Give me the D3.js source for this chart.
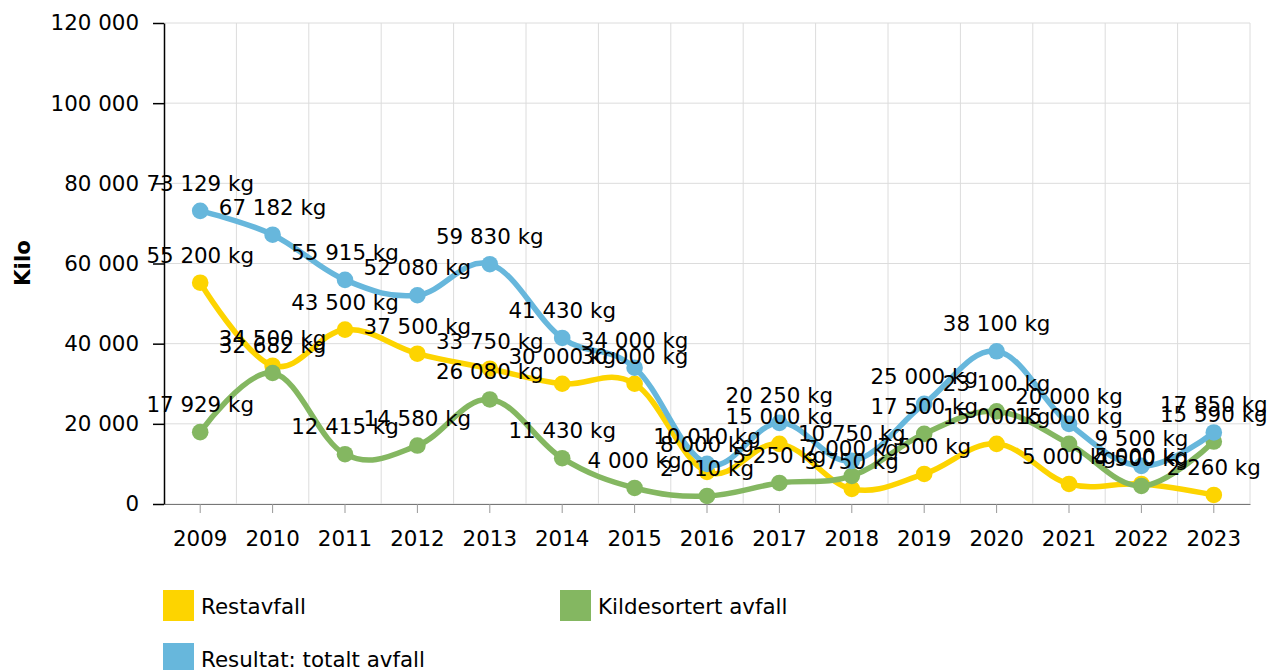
<!doctype html>
<html lang='no'>

<head>
    <meta charset='UTF-8'>
    <title>Avfall</title>
    <style>
        html,
        body {
            margin: 0;
            background: #fff;
        }

        svg text {
            font-family: Verdana, "DejaVu Sans", sans-serif;
            font-size: 21.4px;
            fill: #000;
        }
    </style>
</head>

<body>
    <script src='https://d3js.org/d3.v7.min.js'></script>
    <div class='chart'></div>
    <script>
        const years = ['2009', '2010', '2011', '2012', '2013', '2014', '2015', '2016',
            '2017', '2018', '2019', '2020', '2021', '2022', '2023'];

        const restavfall = [55200, 34500, 43500, 37500, 33750, 30000, 30000, 8000,
            15000, 3750, 7500, 15000, 5000, 5000, 2260];
        const kildesortert = [17929, 32682, 12415, 14580, 26080, 11430, 4000, 2010,
            5250, 7000, 17500, 23100, 15000, 4500, 15590];
        const totalt = [73129, 67182, 55915, 52080, 59830, 41430, 34000, 10010,
            20250, 10750, 25000, 38100, 20000, 9500, 17850];

        const yTicks = [0, 20000, 40000, 60000, 80000, 100000, 120000];

        const series = [
            {name: 'Restavfall', values: restavfall, color: '#fdd400'},
            {name: 'Kildesortert avfall', values: kildesortert, color: '#84b761'},
            {name: 'Resultat: totalt avfall', values: totalt, color: '#67b7dc'}
        ];

        const config = {
            width: 1269,
            height: 670,
            left: 164,
            right: 1250,
            top: 23,
            bottom: 504,
            lineWidth: 5.5,
            pointRadius: 8.3,
            gridColor: '#dcdcdc'
        };

        const locale = d3.formatLocale({decimal: ',', thousands: ' ', grouping: [3], currency: ['', ' kr']});
        const fmt = locale.format(',');

        const svg = d3.select('.chart')
            .append('svg')
            .attr('width', config.width)
            .attr('height', config.height);

        const x = d3.scaleBand()
            .domain(years)
            .range([config.left, config.right]);
        const cx = (d) => x(d) + x.bandwidth() / 2;

        const y = d3.scaleLinear()
            .domain([0, 120000])
            .range([config.bottom, config.top]);

        // grid
        const grid = svg.append('g');
        grid.selectAll('.hgrid')
            .data(yTicks)
            .enter()
            .append('line')
            .attr('x1', config.left)
            .attr('x2', config.right)
            .attr('y1', (d) => y(d))
            .attr('y2', (d) => y(d))
            .style('stroke', config.gridColor);

        grid.selectAll('.vgrid')
            .data(years)
            .enter()
            .append('line')
            .attr('x1', (d) => x(d) + x.bandwidth())
            .attr('x2', (d) => x(d) + x.bandwidth())
            .attr('y1', config.top)
            .attr('y2', config.bottom)
            .style('stroke', config.gridColor);

        // x axis
        const xAxis = svg.append('g')
            .attr('transform', 'translate(0,' + config.bottom + ')')
            .call(d3.axisBottom(x).tickSize(9).tickPadding(18).tickSizeOuter(0));
        xAxis.select('.domain').style('stroke', '#777');
        xAxis.selectAll('.tick line').style('stroke', '#999');
        xAxis.attr('font-size', null).attr('font-family', null);

        // y axis
        const yAxis = svg.append('g')
            .attr('transform', 'translate(' + config.left + ',0)')
            .call(d3.axisLeft(y).tickValues(yTicks).tickFormat(fmt).tickSize(11).tickPadding(14).tickSizeOuter(0));
        yAxis.select('.domain').style('stroke', '#000').style('stroke-width', 1.5);
        yAxis.selectAll('.tick line').style('stroke', '#000').style('stroke-width', 1.5);
        yAxis.attr('font-size', null).attr('font-family', null);

        svg.append('text')
            .attr('transform', 'translate(30,263) rotate(-90)')
            .attr('text-anchor', 'middle')
            .style('font-weight', 'bold')
            .text('Kilo');

        // lines
        const line = d3.line()
            .x((d, i) => cx(years[i]))
            .y((d) => y(d))
            .curve(d3.curveCardinal.tension(-0.1));

        series.forEach((s) => {
            const g = svg.append('g');
            g.append('path')
                .attr('d', line(s.values))
                .style('fill', 'none')
                .style('stroke', s.color)
                .style('stroke-width', config.lineWidth);
            g.selectAll('circle')
                .data(s.values)
                .enter()
                .append('circle')
                .attr('cx', (d, i) => cx(years[i]))
                .attr('cy', (d) => y(d))
                .attr('r', config.pointRadius)
                .style('fill', s.color);
        });

        // labels
        series.forEach((s) => {
            svg.append('g')
                .selectAll('text')
                .data(s.values)
                .enter()
                .append('text')
                .attr('x', (d, i) => cx(years[i]))
                .attr('y', (d) => y(d) - 20)
                .attr('text-anchor', 'middle')
                .text((d) => fmt(d) + ' kg');
        });

        // legend
        const legendPos = [[163, 590], [560, 590], [163, 643]];
        const legend = svg.append('g')
            .selectAll('g')
            .data(series)
            .enter()
            .append('g')
            .attr('transform', (d, i) => 'translate(' + legendPos[i][0] + ',' + legendPos[i][1] + ')');
        legend.append('rect')
            .attr('width', 31)
            .attr('height', 31)
            .style('fill', (d) => d.color);
        legend.append('text')
            .attr('x', 38)
            .attr('y', 24)
            .text((d) => d.name);
    </script>
</body>
</html>
